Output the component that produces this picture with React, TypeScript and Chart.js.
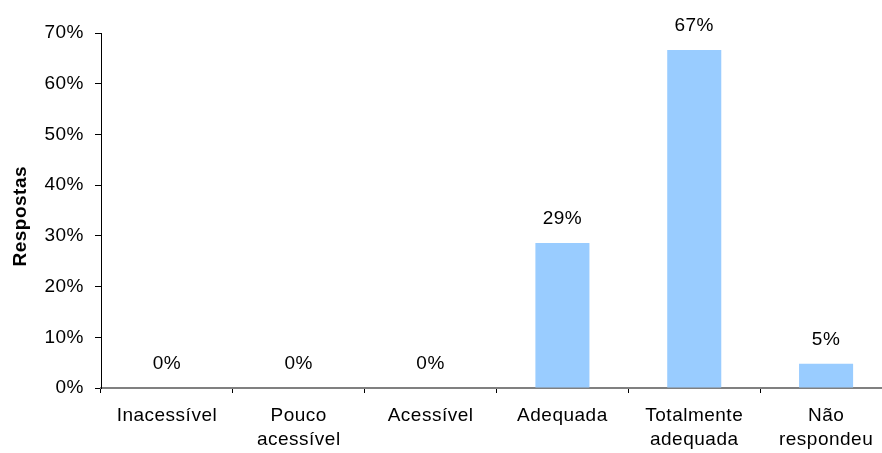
import React, { useEffect, useRef } from "react";
import { Chart, registerables } from "chart.js";

Chart.register(...registerables);

const categories: (string | string[])[] = [
  "Inacessível",
  ["Pouco", "acessível"],
  "Acessível",
  "Adequada",
  ["Totalmente", "adequada"],
  ["Não", "respondeu"],
];
const values: number[] = [0, 0, 0, 28.57, 66.67, 4.76];
const yTicks: number[] = [0, 10, 20, 30, 40, 50, 60, 70];

const FONT = '"Liberation Sans", Arial, sans-serif';

const spacingPlugin = {
  id: "spacing",
  beforeLayout(chart: any) {
    chart.ctx.letterSpacing = "0.5px";
  },
  beforeDraw(chart: any) {
    chart.ctx.letterSpacing = "0.5px";
  },
};

const valueLabels = {
  id: "valueLabels",
  afterDatasetsDraw(chart: any) {
    const ctx = chart.ctx;
    const meta = chart.getDatasetMeta(0);
    ctx.save();
    ctx.font = `19px ${FONT}`;
    ctx.fillStyle = "#000";
    ctx.textAlign = "center";
    ctx.textBaseline = "middle";
    meta.data.forEach((bar: any, i: number) => {
      ctx.fillText(Math.round(values[i]) + "%", bar.x, bar.y - 24);
    });
    ctx.restore();
  },
};

export default function App() {
  const ref = useRef<HTMLCanvasElement>(null);
  useEffect(() => {
    if (!ref.current) return;
    const chart = new Chart(ref.current, {
      type: "bar",
      data: {
        labels: categories as any,
        datasets: [
          {
            data: values,
            backgroundColor: "#99CCFF",
            borderWidth: 0,
            barPercentage: 0.41,
            categoryPercentage: 1,
          },
        ],
      },
      options: {
        responsive: false,
        animation: false,
        layout: { padding: { top: 33, right: 8, left: 0, bottom: 0 } },
        plugins: { legend: { display: false }, tooltip: { enabled: false } },
        scales: {
          x: {
            offset: true,
            grid: {
              offset: true,
              drawOnChartArea: false,
              drawTicks: true,
              tickLength: 5,
              color: "#000",
            },
            border: { display: true, color: "#808080", width: 2 },
            ticks: {
              color: "#000",
              padding: 10,
              maxRotation: 0,
              autoSkip: false,
              font: { family: FONT, size: 19, lineHeight: 1.3 },
            },
            afterFit: (s: any) => {
              s.height = 65;
            },
          },
          y: {
            min: 0,
            max: 70,
            afterBuildTicks: (s: any) => {
              s.ticks = yTicks.map((v) => ({ value: v }));
            },
            grid: {
              drawOnChartArea: false,
              drawTicks: true,
              tickLength: 6,
              color: "#000",
            },
            border: { display: true, color: "#000", width: 1 },
            ticks: {
              color: "#000",
              padding: 11,
              font: { family: FONT, size: 19 },
              callback: (v: any) => v + "%",
            },
            title: {
              display: true,
              text: "Respostas  ",
              color: "#000",
              font: { family: FONT, size: 19, weight: "bold" },
              padding: { top: 9, bottom: 0 },
            },
            afterFit: (s: any) => {
              s.width = 101;
            },
          },
        },
      },
      plugins: [spacingPlugin, valueLabels],
    });
    return () => chart.destroy();
  }, []);
  return (
    <div
      style={{
        position: "fixed",
        left: 0,
        top: 0,
        width: 882,
        height: 453,
        overflow: "hidden",
        background: "#fff",
      }}
    >
      <canvas ref={ref} width={900} height={453} style={{ display: "block" }} />
    </div>
  );
}
